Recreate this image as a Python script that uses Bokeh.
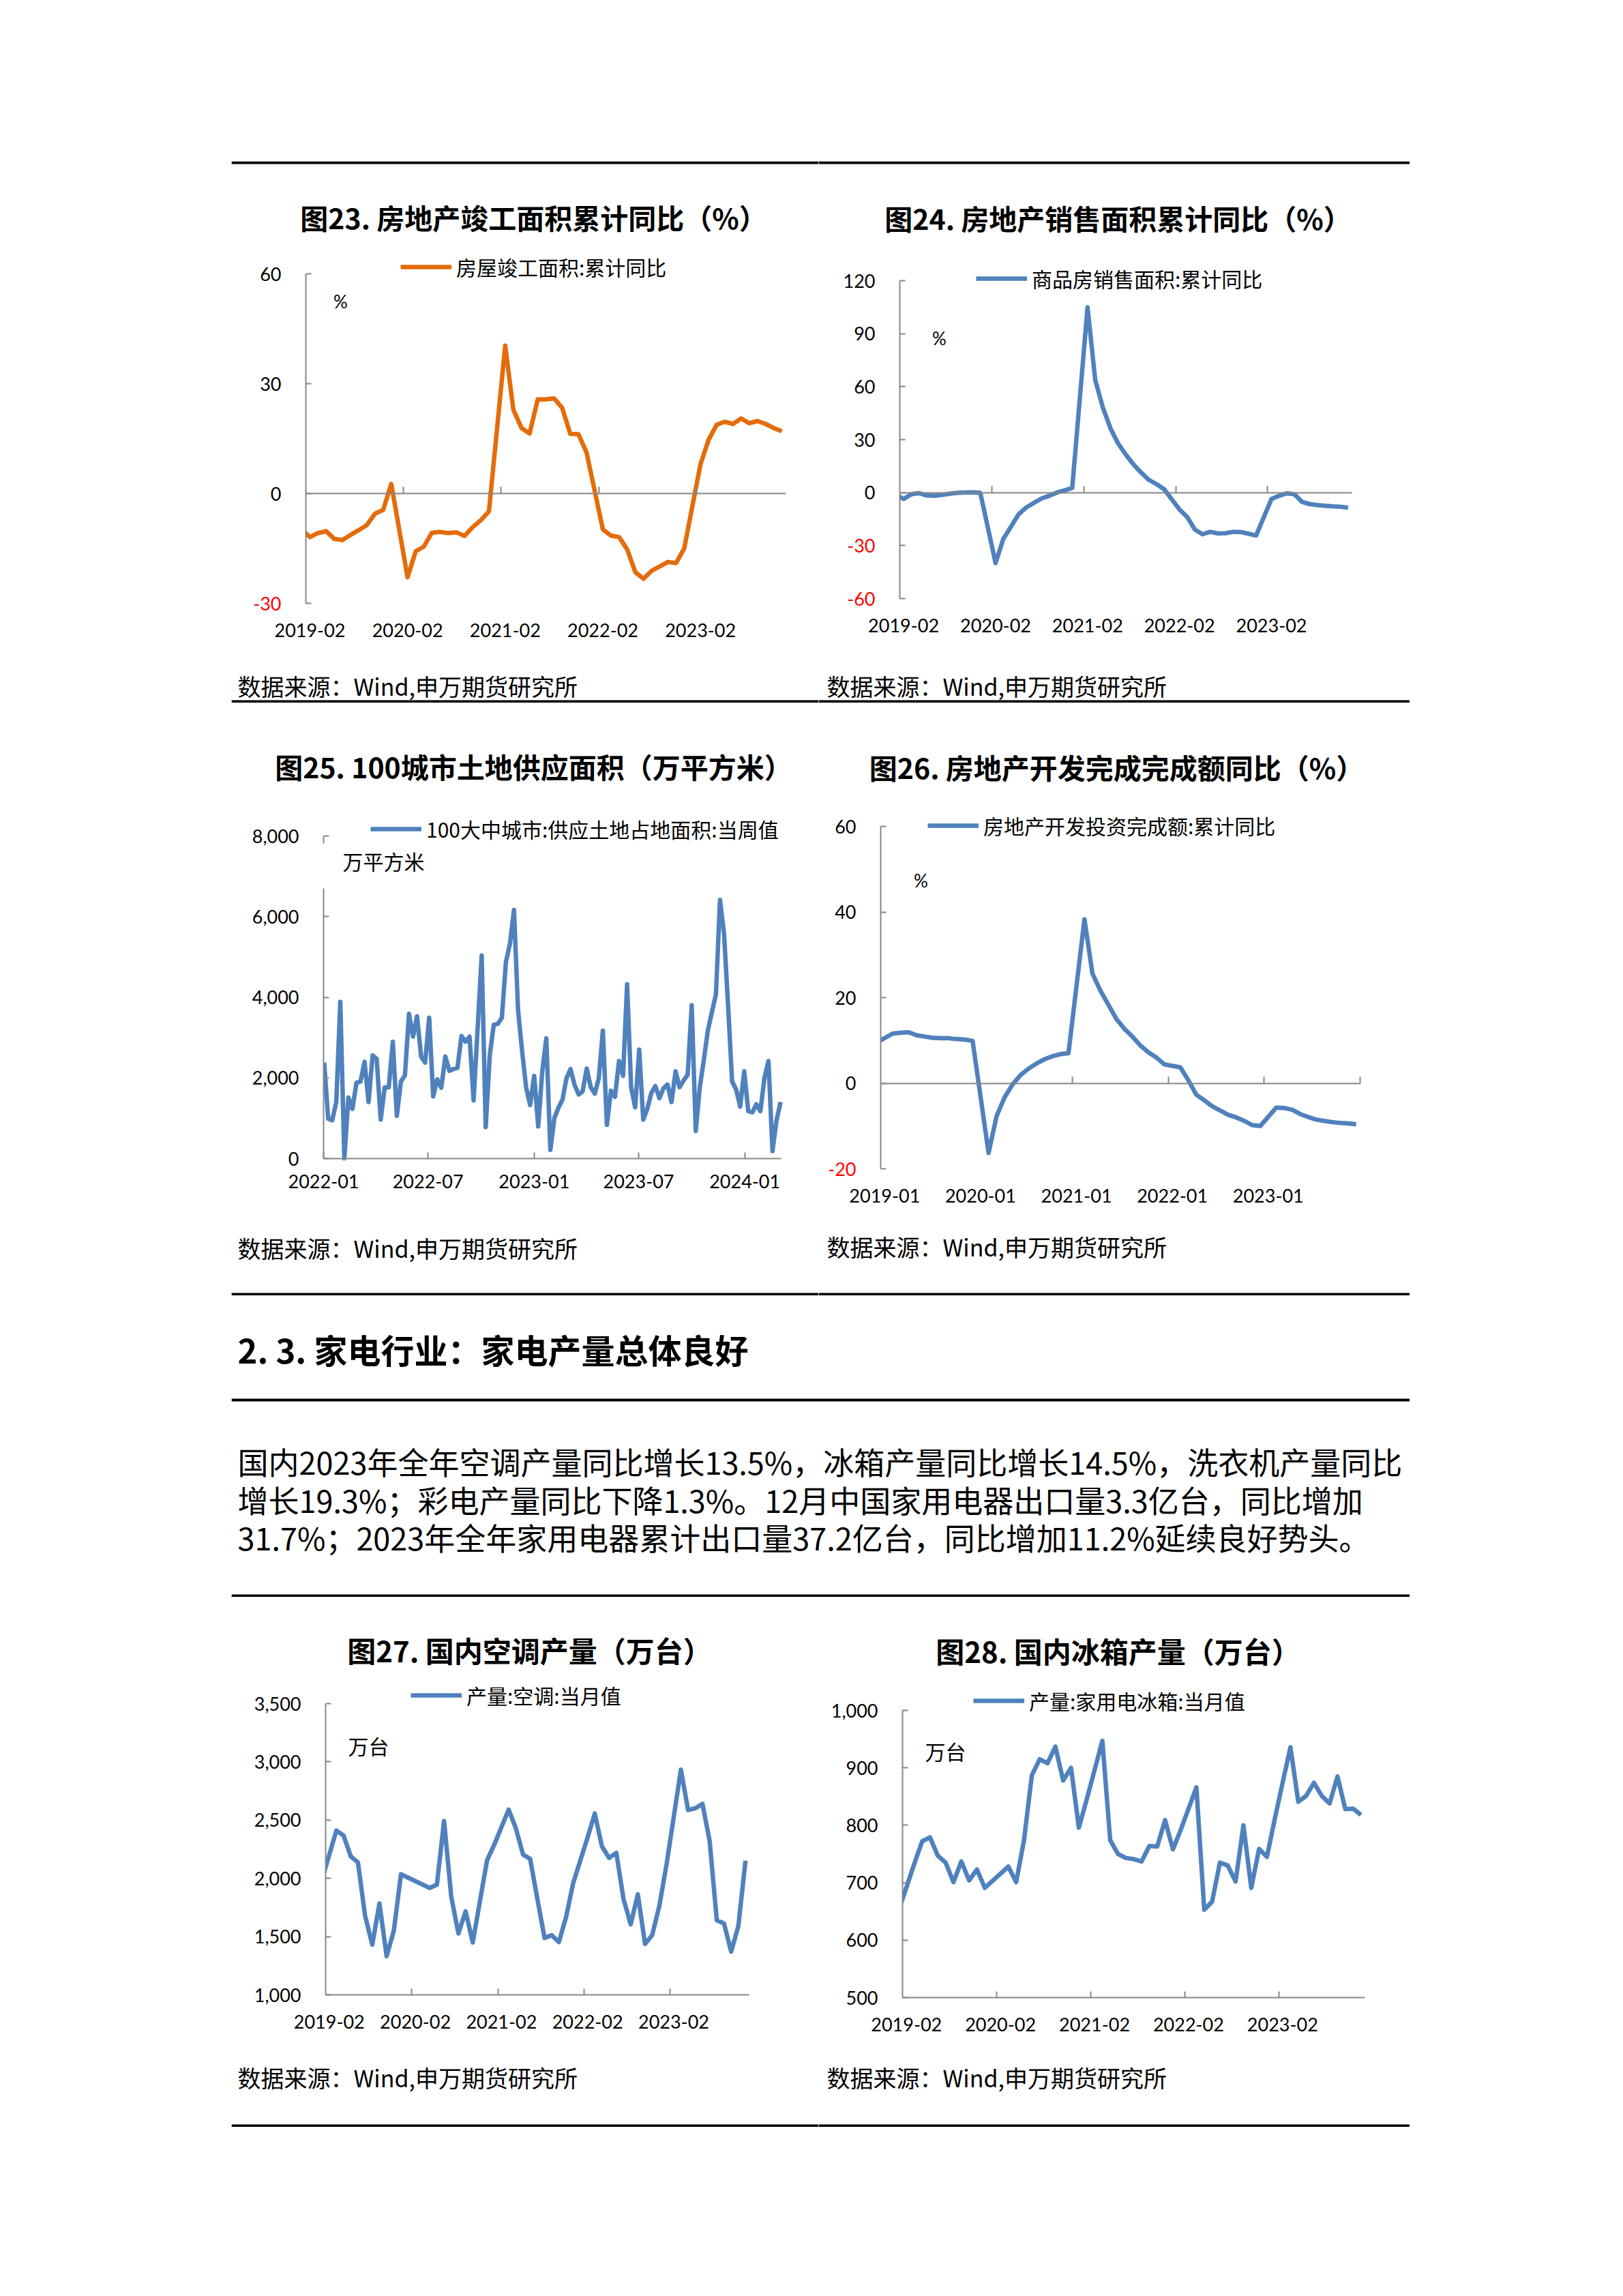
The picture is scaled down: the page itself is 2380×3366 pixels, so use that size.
import pandas as pd
from bokeh.plotting import figure
from bokeh.models import (Range1d, FixedTicker, NumeralTickFormatter, Span, Label,
                          Legend, LegendItem, Spacer, LinearAxis, BoxAnnotation)
from bokeh.layouts import column, row
from bokeh.embed import file_html
from bokeh.resources import INLINE

CJK = "Noto Sans CJK SC"
NUM = "Lato"
GREY = "#868686"
ORANGE = "#E46C0A"
BLUE = "#4F81BD"
RED = "#FF0000"

# ---------------- data ----------------
# Fig 23/24/26: cumulative YoY, Dec-2018 (runs off the left edge) then Feb-Dec of each year
months_cum = ["2018-12"] + [f"{y}-{m:02d}" for y in range(2019, 2024) for m in range(2, 13)]

completion_yoy = [-7.8,
    -11.9, -10.8, -10.3, -12.4, -12.7, -11.3, -10.0, -8.6, -5.5, -4.5, 2.6,
    -22.9, -15.8, -14.5, -10.7, -10.5, -10.8, -10.6, -11.6, -9.2, -7.3, -4.9,
    40.4, 22.9, 17.9, 16.4, 25.7, 25.7, 26.0, 23.4, 16.3, 16.2, 11.2,
    -9.8, -11.5, -11.9, -15.3, -21.5, -23.3, -21.1, -19.9, -18.7, -19.0, -15.0,
    8.0, 14.7, 18.8, 19.6, 19.0, 20.5, 19.2, 19.8, 19.0, 17.9, 17.0]

sales_yoy = [1.3,
    -3.6, -0.9, -0.3, -1.6, -1.8, -1.3, -0.6, -0.1, 0.1, 0.2, -0.1,
    -39.9, -26.3, -19.3, -12.3, -8.4, -5.8, -3.3, -1.8, 0.0, 1.3, 2.6,
    104.9, 63.8, 48.1, 36.3, 27.7, 21.5, 15.9, 11.3, 7.2, 4.8, 1.9,
    -9.6, -13.8, -20.9, -23.6, -22.2, -23.1, -23.0, -22.2, -22.3, -23.3, -24.3,
    -3.6, -1.8, -0.4, -0.9, -5.3, -6.5, -7.1, -7.5, -7.8, -8.0, -8.5]

invest_yoy = [9.5,
    11.6, 11.8, 11.9, 11.2, 10.9, 10.6, 10.5, 10.5, 10.3, 10.2, 9.9,
    -16.3, -7.7, -3.3, -0.3, 1.9, 3.4, 4.6, 5.6, 6.3, 6.8, 7.0,
    38.3, 25.6, 21.6, 18.3, 15.0, 12.7, 10.9, 8.8, 7.2, 6.0, 4.4,
    3.7, 0.7, -2.7, -4.0, -5.4, -6.4, -7.4, -8.0, -8.8, -9.8, -10.0,
    -5.7, -5.8, -6.2, -7.2, -7.9, -8.5, -8.8, -9.1, -9.3, -9.4, -9.6]

# Fig 25: weekly land supply (10k m2), weeks starting 2022-01-02
land_start = "2022-01-02"
land_supply = [2379, 989, 949, 1401, 3887, 6, 1514, 1232, 1881, 1910, 2401, 1401, 2559, 2475,
    966, 1768, 1768, 2898, 1062, 1910, 2062, 3588, 3023, 3531, 2531, 2379, 3492, 1542,
    1966, 1757, 2531, 2175, 2220, 2249, 3040, 2898, 3023, 1441, 3237, 5034, 780, 2559,
    3322, 3339, 3492, 4876, 5328, 6164, 3689, 2672, 1768, 1328, 2051, 797, 2164, 2983, 215,
    1006, 1260, 1458, 1994, 2220, 1825, 1588, 1667, 2232, 1768, 1610, 1994, 3170, 836,
    1684, 1531, 2418, 2051, 4322, 1768, 1271, 2701, 966, 1232, 1627, 1797, 1497, 1740,
    1836, 1401, 2164, 1768, 1938, 2079, 3802, 684, 1768, 2446, 3181, 3633, 4074, 6413,
    5582, 3802, 1910, 1712, 1288, 2164, 1175, 1147, 1345, 1175, 1994, 2418, 186, 949, 1401]

# Fig 27: air-conditioner output, monthly (Jan-Mar 2020 missing)
months_ac = ([f"2019-{m:02d}" for m in range(1, 13)] + [f"2020-{m:02d}" for m in range(4, 13)]
             + [f"{y}-{m:02d}" for y in range(2021, 2024) for m in range(1, 13)])
ac_output = [1990, 2200, 2410, 2367, 2189, 2137, 1678, 1430, 1785, 1332, 1551, 2035,
    1918, 1945, 2492, 1844, 1527, 1717, 1449, 1805, 2156,
    2290, 2440, 2590, 2430, 2205, 2166, 1824, 1488, 1512, 1453, 1668, 1961,
    2156, 2351, 2557, 2273, 2176, 2219, 1824, 1605, 1863, 1437, 1512, 1766,
    2120, 2527, 2933, 2586, 2601, 2640, 2322, 1639, 1613, 1371, 1590, 2152]

# Fig 28: household fridge output, monthly (Jan-Feb 2020 missing)
months_fr = ([f"2019-{m:02d}" for m in range(1, 13)] + [f"2020-{m:02d}" for m in range(3, 13)]
             + [f"{y}-{m:02d}" for y in range(2021, 2024) for m in range(1, 13)])
fridge_output = [652, 692, 733, 772, 779, 747, 735, 701, 737, 704, 723, 691,
    728, 701, 774, 887, 915, 908, 937, 878, 900, 796,
    845, 896, 947, 774, 750, 743, 741, 737, 764, 763, 809, 758,
    792, 829, 866, 653, 667, 735, 730, 702, 800, 691, 759, 745,
    811, 874, 936, 841, 851, 874, 851, 838, 885, 828, 829, 818]

labels_feb = ["2019-02", "2020-02", "2021-02", "2022-02", "2023-02"]
labels_jan = ["2019-01", "2020-01", "2021-01", "2022-01", "2023-01"]
labels_land = ["2022-01", "2022-07", "2023-01", "2023-07", "2024-01"]

yticks_23 = [-30, 0, 30, 60]
yticks_24 = [-60, -30, 0, 30, 60, 90, 120]
yticks_25 = [0, 2000, 4000, 6000, 8000]
yticks_26 = [-20, 0, 20, 40, 60]
yticks_27 = [1000, 1500, 2000, 2500, 3000, 3500]
yticks_28 = [500, 600, 700, 800, 900, 1000]

SOURCE = "数据来源：Wind,申万期货研究所"


def month_pos(s, base):
    y, m = map(int, s.split("-"))
    return (y - base[0]) * 12 + (m - base[1])


# ---------------- helpers ----------------
class Panel:
    """A figure whose frame fills the whole canvas; page pixel <-> data mapping."""

    def __init__(self, fx0, fy0, w, h, box=None, xr=(0, 1), yr=(0, 1)):
        self.fx0, self.fy0, self.w, self.h = fx0, fy0, w, h
        if box is None:
            box = (fx0, fx0 + w, fy0, fy0 + h)
        L, R, T, B = box
        kx = (xr[1] - xr[0]) / (R - L)
        ky = (yr[1] - yr[0]) / (B - T)
        xs, xe = xr[0] - (L - fx0) * kx, xr[1] + (fx0 + w - R) * kx
        ys, ye = yr[0] - (fy0 + h - B) * ky, yr[1] + (T - fy0) * ky
        self.xr, self.yr, self.ky = xr, yr, ky
        p = figure(width=w, height=h, output_backend="svg", toolbar_location=None,
                   x_range=Range1d(xs, xe), y_range=Range1d(ys, ye), min_border=0)
        p.outline_line_color = None
        p.grid.visible = False
        p.background_fill_color = "white"
        p.border_fill_color = "white"
        self.p = p

    def sx(self, x):
        return x - self.fx0

    def sy(self, y):
        return self.fy0 + self.h - y

    def data_y(self, page_y):
        return self.p.y_range.start + self.sy(page_y) * self.ky

    def series(self, x, y, color):
        r = self.p.line(x, y, line_color=color, line_width=6.5, line_join="round")
        # the series is cut at the value axis, as in the original
        self.p.quad(left=[self.p.x_range.start], right=[self.xr[0]],
                    bottom=[self.p.y_range.start], top=[self.p.y_range.end],
                    fill_color="white", line_color=None)
        return r

    def rule(self, page_y):
        self.p.add_layout(Span(location=self.sy(page_y), location_units="screen",
                               dimension="width", line_color="black", line_width=4))

    def txt(self, x, y, text, size, font=CJK, bold=False, align="left", color="black"):
        self.p.add_layout(Label(x=self.sx(x), y=self.sy(y), x_units="screen", y_units="screen",
                                text=text, text_font=font, text_font_size=f"{size}px",
                                text_font_style="bold" if bold else "normal",
                                text_align=align, text_baseline="middle", text_color=color))

    def legend(self, r, text, x, yc):
        leg = Legend(items=[LegendItem(label=text, renderers=[r])],
                     location=(self.sx(x), self.sy(yc) - 15),
                     border_line_color=None, background_fill_alpha=0, padding=0, margin=0,
                     spacing=0, glyph_width=75, glyph_height=30, label_height=30,
                     label_standoff=7, label_text_font=CJK, label_text_font_size="30px",
                     label_text_color="black")
        self.p.add_layout(leg)

    def yaxis(self, ticks, numeral=False):
        p = self.p
        ax = p.yaxis[0]
        ax.fixed_location = self.xr[0]
        ax.bounds = self.yr
        ax.ticker = FixedTicker(ticks=ticks)
        if numeral:
            ax.formatter = NumeralTickFormatter(format="0,0")
        ax.axis_line_color = GREY
        ax.axis_line_width = 2
        ax.major_tick_in = 8
        ax.major_tick_out = 0
        ax.major_tick_line_color = GREY
        ax.major_tick_line_width = 2
        ax.minor_tick_line_color = None
        ax.major_label_text_font = NUM
        ax.major_label_text_font_size = "27px"
        ax.major_label_text_color = "black"
        ax.major_label_standoff = 36
        neg = [v for v in ticks if v < 0]
        if neg:
            ax.major_label_overrides = {v: "" for v in neg}
            for v in neg:
                p.add_layout(Label(x=self.xr[0], y=v, x_units="data", y_units="data",
                                   x_offset=-36, text=str(v), text_align="right",
                                   text_baseline="middle", text_color=RED,
                                   text_font=NUM, text_font_size="27px"))

    def xaxis_labels(self, pos, labels, line=False, major_in=0, minor=None):
        ax = self.p.xaxis[0]
        ax.fixed_location = self.yr[0]
        ax.bounds = self.xr
        ax.ticker = FixedTicker(ticks=pos, minor_ticks=minor or [])
        ax.major_label_overrides = dict(zip(pos, labels))
        ax.axis_line_color = GREY if line else None
        ax.axis_line_width = 2
        if major_in:
            ax.major_tick_in = major_in
            ax.major_tick_out = 0
            ax.major_tick_line_color = GREY
            ax.major_tick_line_width = 2
        else:
            ax.major_tick_line_color = None
        if minor:
            ax.minor_tick_in = 9
            ax.minor_tick_out = 0
            ax.minor_tick_line_color = GREY
            ax.minor_tick_line_width = 2
        else:
            ax.minor_tick_line_color = None
        ax.major_label_text_font = NUM
        ax.major_label_text_font_size = "27px"
        ax.major_label_text_color = "black"
        ax.major_label_standoff = 23

    def zero_axis(self, bounds):
        ax = LinearAxis(fixed_location=0, bounds=self.xr, ticker=FixedTicker(ticks=bounds),
                        axis_line_color=GREY, axis_line_width=2,
                        major_tick_in=10, major_tick_out=0, major_tick_line_color=GREY,
                        major_tick_line_width=2, minor_tick_line_color=None,
                        major_label_text_color=None, major_label_text_font_size="1px")
        self.p.add_layout(ax, "below")


lab_pos = [0, 12, 24, 36, 48]
bounds_feb = [11.5, 23.5, 35.5, 47.5]
TS = 41  # chart title size

# ---------------- row 1 : Fig 23 / 24 ----------------
A = Panel(339, 236, 861, 794, (448, 1152, 401, 884), (-0.5, 58.5), (-30, 60))
x23 = [month_pos(m, (2019, 2)) for m in months_cum]
r23 = A.series(x23, completion_yoy, ORANGE)
A.yaxis(yticks_23)
A.xaxis_labels(lab_pos, labels_feb)
A.zero_axis(bounds_feb)
A.legend(r23, "房屋竣工面积:累计同比", 587, 398)
A.txt(782, 317, "图23. 房地产竣工面积累计同比（%）", TS, bold=True, align="center")
A.txt(499, 441, "%", 26, font=NUM, align="center")
A.txt(348, 1005, SOURCE, 34)
A.rule(238)
A.rule(1028)

B = Panel(1200, 236, 867, 794, (1319, 1982, 411, 877), (-0.5, 58.5), (-60, 120))
r24 = B.series(x23, sales_yoy, BLUE)
B.yaxis(yticks_24)
B.xaxis_labels(lab_pos, labels_feb)
B.zero_axis(bounds_feb)
B.legend(r24, "商品房销售面积:累计同比", 1431, 415)
B.txt(1639, 318, "图24. 房地产销售面积累计同比（%）", TS, bold=True, align="center")
B.txt(1377, 495, "%", 26, font=NUM, align="center")
B.txt(1212, 1005, SOURCE, 34)
B.rule(238)
B.rule(1028)

# ---------------- row 2 : Fig 25 / 26 ----------------
origin = pd.Timestamp("2022-01-01")
land_dates = pd.date_range(land_start, periods=len(land_supply), freq="7D")
x25 = [(d - origin).days for d in land_dates]
C = Panel(339, 1030, 861, 869, (474, 1145, 1225, 1698), (0, x25[-1] + 1), (0, 8000))
r25 = C.series(x25, land_supply, BLUE)
C.yaxis(yticks_25, numeral=True)
land_pos = [(pd.Timestamp(s + "-01") - origin).days for s in labels_land]
C.xaxis_labels(land_pos, labels_land, line=True, major_in=9)
# white legend box of the original hides the top of the value axis
C.p.add_layout(BoxAnnotation(left=-8, right=8, left_units="data", right_units="data",
                             bottom=C.data_y(1302), top=C.data_y(1236),
                             fill_color="white", fill_alpha=1, line_color=None))
C.legend(r25, "100大中城市:供应土地占地面积:当周值", 543, 1222)
C.txt(782, 1122, "图25. 100城市土地供应面积（万平方米）", TS, bold=True, align="center")
C.txt(562, 1261, "万平方米", 30, align="center")
C.txt(348, 1829, SOURCE, 34)
C.rule(1897)

D = Panel(1200, 1030, 867, 869, (1291, 1994, 1211, 1713), (-0.5, 59.5), (-20, 60))
x26 = [month_pos(m, (2019, 1)) for m in months_cum]
r26 = D.series(x26, invest_yoy, BLUE)
D.yaxis(yticks_26)
D.xaxis_labels(lab_pos, labels_jan)
D.zero_axis([11.5, 23.5, 35.5, 47.5, 59.5])
D.legend(r26, "房地产开发投资完成额:累计同比", 1360, 1217)
D.txt(1637, 1123, "图26. 房地产开发完成完成额同比（%）", TS, bold=True, align="center")
D.txt(1350, 1290, "%", 26, font=NUM, align="center")
D.txt(1212, 1827, SOURCE, 34)
D.rule(1897)

# ---------------- text block ----------------
M = Panel(339, 1899, 1728, 442)
M.p.xaxis.visible = False
M.p.yaxis.visible = False
M.txt(348, 1977, "2. 3. 家电行业：家电产量总体良好", 49, bold=True)
M.rule(2052)
para_lines = [
    "国内2023年全年空调产量同比增长13.5%，冰箱产量同比增长14.5%，洗衣机产量同比",
    "增长19.3%；彩电产量同比下降1.3%。12月中国家用电器出口量3.3亿台，同比增加",
    "31.7%；2023年全年家用电器累计出口量37.2亿台，同比增加11.2%延续良好势头。",
]
for yy, line in zip([2142, 2198, 2253], para_lines):
    M.txt(348, yy, line, 45)
M.rule(2339)

# ---------------- row 3 : Fig 27 / 28 ----------------
E = Panel(339, 2341, 861, 777, (477, 1098, 2497, 2924), (-0.5, 58.5), (1000, 3500))
x27 = [month_pos(m, (2019, 2)) for m in months_ac]
r27 = E.series(x27, ac_output, BLUE)
E.yaxis(yticks_27, numeral=True)
E.xaxis_labels(lab_pos, labels_feb, line=True, minor=bounds_feb)
E.legend(r27, "产量:空调:当月值", 602, 2492)
E.txt(776, 2418, "图27. 国内空调产量（万台）", 42, bold=True, align="center")
E.txt(540, 2558, "万台", 30, align="center")
E.txt(348, 3045, SOURCE, 34)
E.rule(3116)

F = Panel(1200, 2341, 867, 777, (1323, 2001, 2507, 2928), (-0.5, 58.5), (500, 1000))
x28 = [month_pos(m, (2019, 2)) for m in months_fr]
r28 = F.series(x28, fridge_output, BLUE)
F.yaxis(yticks_28, numeral=True)
F.xaxis_labels(lab_pos, labels_feb, line=True, minor=bounds_feb)
F.legend(r28, "产量:家用电冰箱:当月值", 1427, 2500)
F.txt(1639, 2419, "图28. 国内冰箱产量（万台）", 42, bold=True, align="center")
F.txt(1386, 2566, "万台", 30, align="center")
F.txt(1212, 3045, SOURCE, 34)
F.rule(3116)

page = column(
    Spacer(width=2380, height=236),
    row(Spacer(width=339, height=794), A.p, B.p),
    row(Spacer(width=339, height=869), C.p, D.p),
    row(Spacer(width=339, height=442), M.p),
    row(Spacer(width=339, height=777), E.p, F.p),
)

open("out.html", "w").write(file_html(page, INLINE, title="charts"))
